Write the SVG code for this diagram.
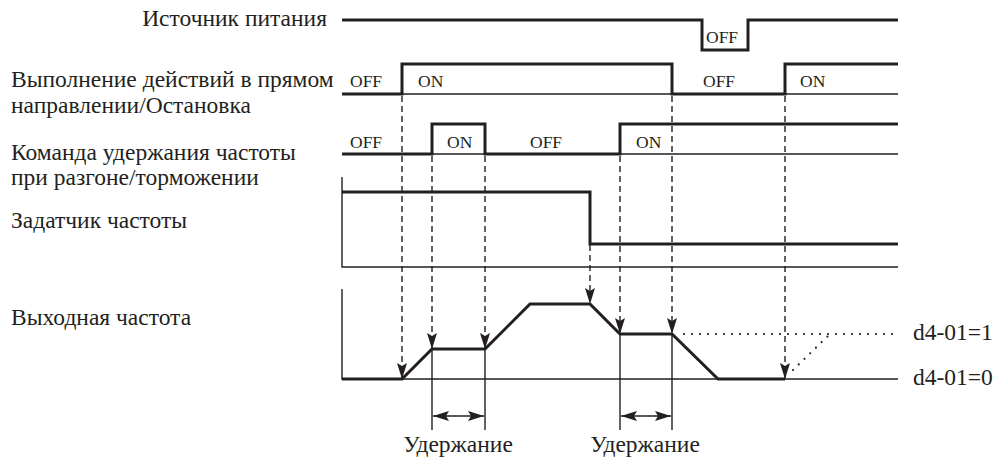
<svg xmlns="http://www.w3.org/2000/svg" width="994" height="460" viewBox="0 0 994 460">
<style>
text{font-family:"Liberation Serif","Times New Roman",serif;fill:#231f20}
.lbl{font-size:23.5px}
.st{font-size:17.5px}
.thick{fill:none;stroke:#231f20;stroke-width:3;stroke-linejoin:miter}
.thin{fill:none;stroke:#231f20;stroke-width:1.4}
.dash{fill:none;stroke:#231f20;stroke-width:1.4;stroke-dasharray:6 4}
.dot{fill:none;stroke:#231f20;stroke-width:2.2;stroke-dasharray:0 8;stroke-linecap:round}
</style>
<defs>
<marker id="ah" viewBox="0 0 16 10" refX="16" refY="5" markerWidth="16" markerHeight="10" markerUnits="userSpaceOnUse" orient="auto-start-reverse">
<path d="M0,0 L16,5 L0,10 L3,5 Z" fill="#231f20"/>
</marker>
</defs>
<rect width="994" height="460" fill="#fff"/>
<g id="power">
<text class="lbl" x="327" y="26" text-anchor="end">Источник питания</text>
<path class="thick" d="M342,20 H702 V50 H748 V20 H898"/>
<text class="st" x="706" y="43">OFF</text>
</g>
<g id="run">
<text class="lbl" x="11" y="87">Выполнение действий в прямом</text>
<text class="lbl" x="11" y="113">направлении/Остановка</text>
<line class="thin" x1="342" y1="94" x2="898" y2="94"/>
<path class="thick" d="M342,94 H402 V64 H672 V94 H785 V64 H898"/>
<text class="st" x="350" y="87">OFF</text>
<text class="st" x="418" y="87">ON</text>
<text class="st" x="703" y="87">OFF</text>
<text class="st" x="800" y="87">ON</text>
</g>
<g id="hold">
<text class="lbl" x="11" y="160">Команда удержания частоты</text>
<text class="lbl" x="11" y="185">при разгоне/торможении</text>
<line class="thin" x1="342" y1="154" x2="898" y2="154"/>
<path class="thick" d="M342,154 H432 V124 H485 V154 H620 V124 H898"/>
<text class="st" x="350" y="148">OFF</text>
<text class="st" x="447" y="148">ON</text>
<text class="st" x="530" y="148">OFF</text>
<text class="st" x="636" y="148">ON</text>
</g>
<g id="freqref">
<text class="lbl" x="11" y="228">Задатчик частоты</text>
<path class="thin" d="M342,177 V267 H898"/>
<path class="thick" d="M342,192 H590 V244 H898"/>
</g>
<g id="output">
<text class="lbl" x="11" y="325">Выходная частота</text>
<path class="thin" d="M342,289 V379 H898"/>
<path class="thick" d="M342,379 H402 L432,349 H485 L530,304 H590 L620,334 H672 L718,379 H785"/>
<path class="dot" d="M684,334 H898"/>
<path class="dot" d="M793,370 L830,334"/>
<text class="lbl" x="913" y="340">d4-01=1</text>
<text class="lbl" x="913" y="385">d4-01=0</text>
</g>
<g id="connectors">
<line class="dash" x1="402" y1="96" x2="402" y2="379" marker-end="url(#ah)"/>
<line class="dash" x1="432" y1="156" x2="432" y2="349" marker-end="url(#ah)"/>
<line class="dash" x1="485" y1="156" x2="485" y2="349" marker-end="url(#ah)"/>
<line class="dash" x1="590" y1="245" x2="590" y2="304" marker-end="url(#ah)"/>
<line class="dash" x1="620" y1="156" x2="620" y2="334" marker-end="url(#ah)"/>
<line class="dash" x1="672" y1="96" x2="672" y2="334" marker-end="url(#ah)"/>
<line class="dash" x1="785" y1="96" x2="785" y2="379" marker-end="url(#ah)"/>
</g>
<g id="hold1">
<line class="thin" x1="432" y1="349" x2="432" y2="430"/>
<line class="thin" x1="485" y1="349" x2="485" y2="430"/>
<line class="thin" x1="433" y1="416" x2="484" y2="416" marker-start="url(#ah)" marker-end="url(#ah)"/>
<text class="lbl" x="458" y="452" text-anchor="middle">Удержание</text>
</g>
<g id="hold2">
<line class="thin" x1="620" y1="334" x2="620" y2="430"/>
<line class="thin" x1="672" y1="334" x2="672" y2="430"/>
<line class="thin" x1="621" y1="416" x2="671" y2="416" marker-start="url(#ah)" marker-end="url(#ah)"/>
<text class="lbl" x="645" y="452" text-anchor="middle">Удержание</text>
</g>
</svg>
